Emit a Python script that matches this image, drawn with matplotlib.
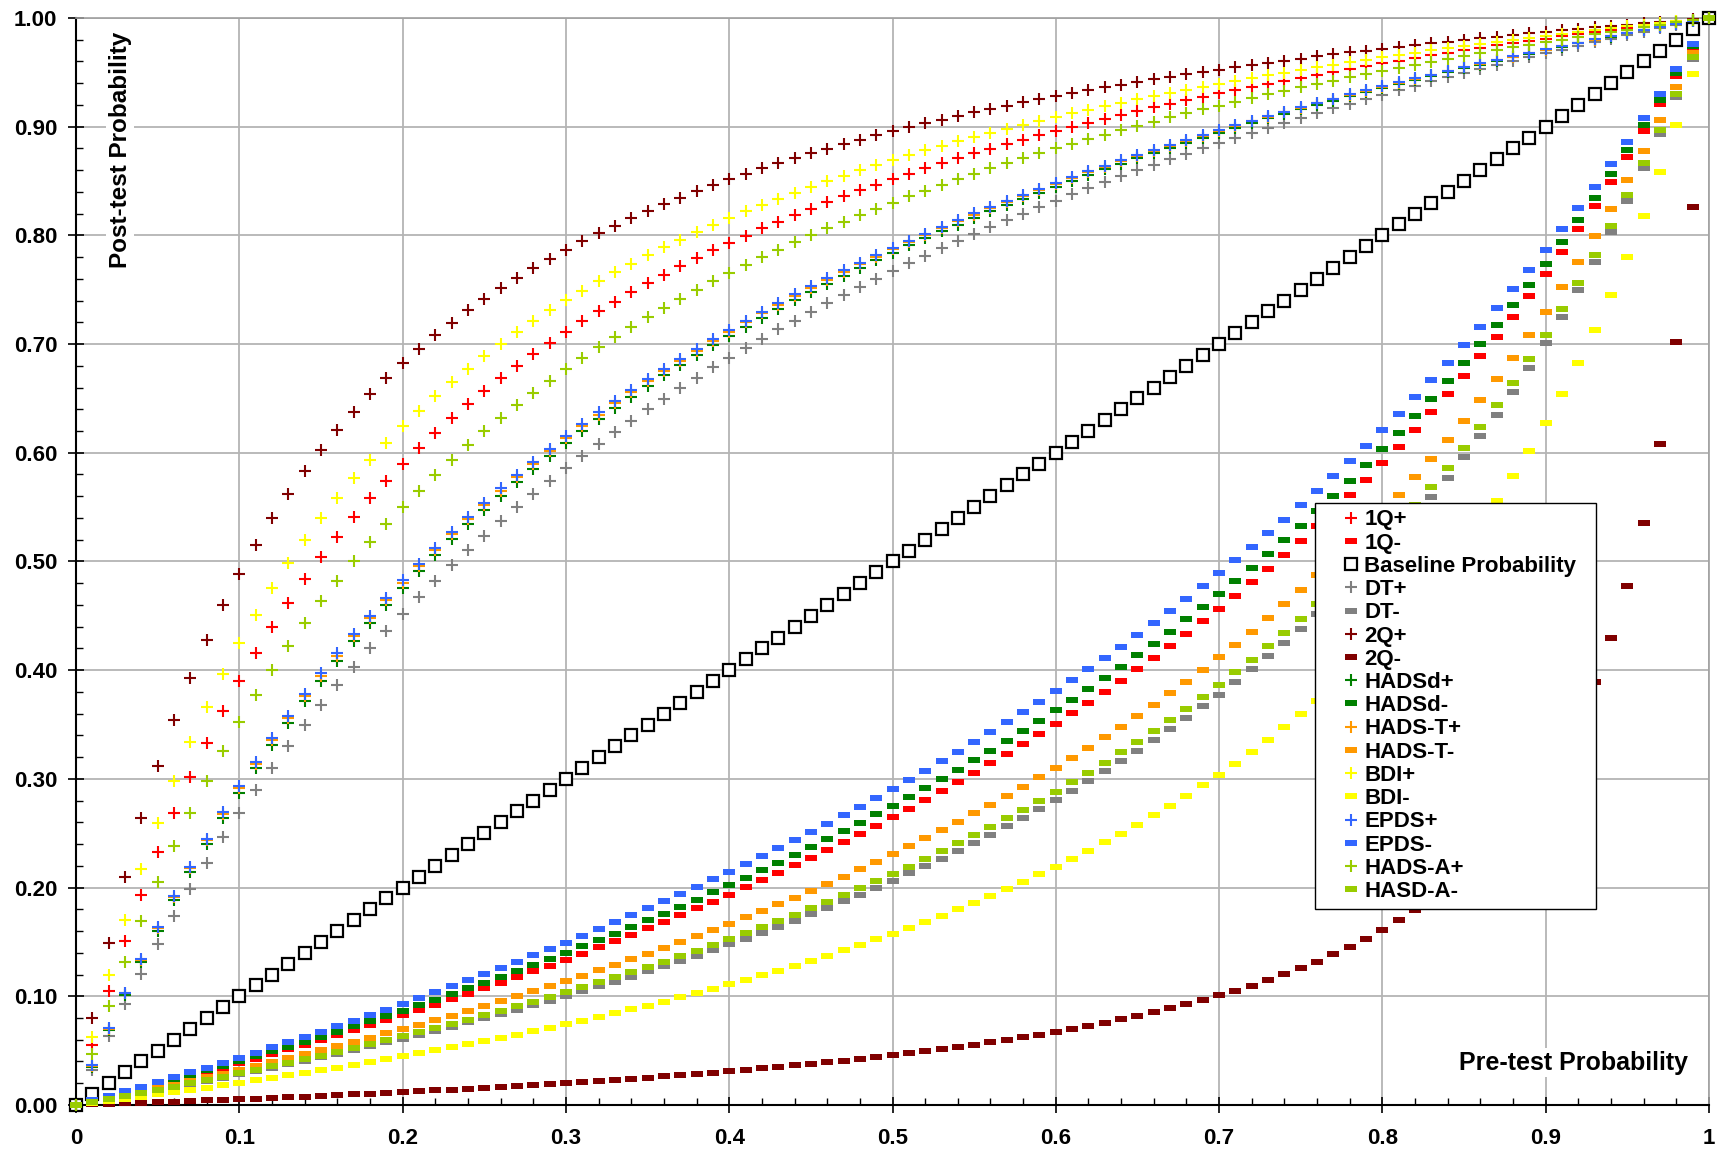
import matplotlib
matplotlib.use("Agg")
import matplotlib.pyplot as plt
import numpy as np

plt.rcParams['font.family'] = ['Liberation Sans', 'DejaVu Sans']
plt.rcParams['font.weight'] = 'bold'

# pre-test probabilities (x), 0 to 1 in steps of 0.01
pre_test = np.round(np.arange(0, 101) / 100, 2)

# likelihood ratios (post odds = LR * pre odds)
tests = ["1Q", "DT", "2Q", "HADSd", "HADS-T", "BDI", "EPDS", "HADS-A"]
lr_pos = [5.75, 3.30, 8.60, 3.63, 3.70, 6.65, 3.73, 4.89]
lr_neg = [0.36, 0.26, 0.048, 0.38, 0.30, 0.187, 0.41, 0.27]
neg_names = ["1Q-", "DT-", "2Q-", "HADSd-", "HADS-T-", "BDI-", "EPDS-", "HASD-A-"]
colors = ["#FF0000", "#808080", "#800000", "#008000", "#FF9900", "#FFFF00", "#3366FF", "#99CC00"]


def post_test(p, lr):
    odds = lr * p / np.maximum(1 - p, 1e-12)
    post = odds / (1 + odds)
    post[p >= 1] = 1.0
    return post


bar = [(-1, -0.55), (1, -0.55), (1, 0.55), (-1, 0.55), (-1, -0.55)]

fig = plt.figure(figsize=(17.23, 11.51), dpi=100)
ax = fig.add_axes([0.0441, 0.04, 0.9478, 0.9444])

for i, t in enumerate(tests):
    ax.plot(pre_test, post_test(pre_test, lr_pos[i]), ls="none", marker="+",
            ms=9, mew=1.5, color=colors[i], label=t + "+", clip_on=False, zorder=3)
    ax.plot(pre_test, post_test(pre_test, lr_neg[i]), ls="none", marker=bar,
            ms=8, mew=0, color=colors[i], label=neg_names[i], clip_on=False, zorder=3)
    if i == 0:
        ax.plot(pre_test, pre_test, ls="none", marker="s", ms=8, mew=1.6,
                mfc="white", mec="black", label="Baseline Probability",
                clip_on=False, zorder=3)

ax.set_xlim(0, 1)
ax.set_ylim(0, 1)
ax.set_xticks(np.arange(0, 1.01, 0.1))
ax.set_xticklabels(["0", "0.1", "0.2", "0.3", "0.4", "0.5", "0.6", "0.7", "0.8", "0.9", "1"])
ax.set_yticks(np.arange(0, 1.01, 0.1))
ax.set_yticklabels([f"{v:.2f}" for v in np.arange(0, 1.01, 0.1)])
ax.set_xticks(np.arange(0, 1.001, 0.02), minor=True)
ax.set_yticks(np.arange(0, 1.001, 0.02), minor=True)
ax.tick_params(which="major", direction="inout", length=11, width=1.2, labelsize=16)
ax.tick_params(which="minor", direction="in", length=5, width=1)
ax.tick_params(axis="x", which="major", pad=11)
ax.tick_params(axis="y", which="major", pad=8)
for lab in ax.get_xticklabels() + ax.get_yticklabels():
    lab.set_fontweight("bold")

ax.grid(True, which="major", color="#b4b4b4", lw=1.3, zorder=0)
ax.set_axisbelow(True)
for s in ["left", "bottom"]:
    ax.spines[s].set_color("black")
    ax.spines[s].set_linewidth(1.5)
for s in ["top", "right"]:
    ax.spines[s].set_color("#a0a0a0")
    ax.spines[s].set_linewidth(1.2)

ax.text(0.027, 0.879, "Post-test Probability", rotation=90, transform=ax.transAxes,
        ha="center", va="center", fontsize=17.5, fontweight="bold", zorder=4,
        bbox=dict(facecolor="white", edgecolor="none", pad=2))
ax.text(0.987, 0.039, "Pre-test Probability", transform=ax.transAxes,
        ha="right", va="center", fontsize=18, fontweight="bold", zorder=4,
        bbox=dict(facecolor="white", edgecolor="none", pad=2))

leg = ax.legend(loc="upper left", bbox_to_anchor=(0.759, 0.0, 0.1715, 0.554),
                mode="expand", borderaxespad=0,
                fontsize=16, numpoints=1, handlelength=2.6, handletextpad=-0.7,
                labelspacing=0.1, borderpad=0.3, fancybox=False, framealpha=1,
                edgecolor="black")
leg.get_frame().set_linewidth(1.0)
leg.set_zorder(5)
for txt in leg.get_texts():
    txt.set_fontweight("bold")

fig.savefig("out.png", dpi=100)
